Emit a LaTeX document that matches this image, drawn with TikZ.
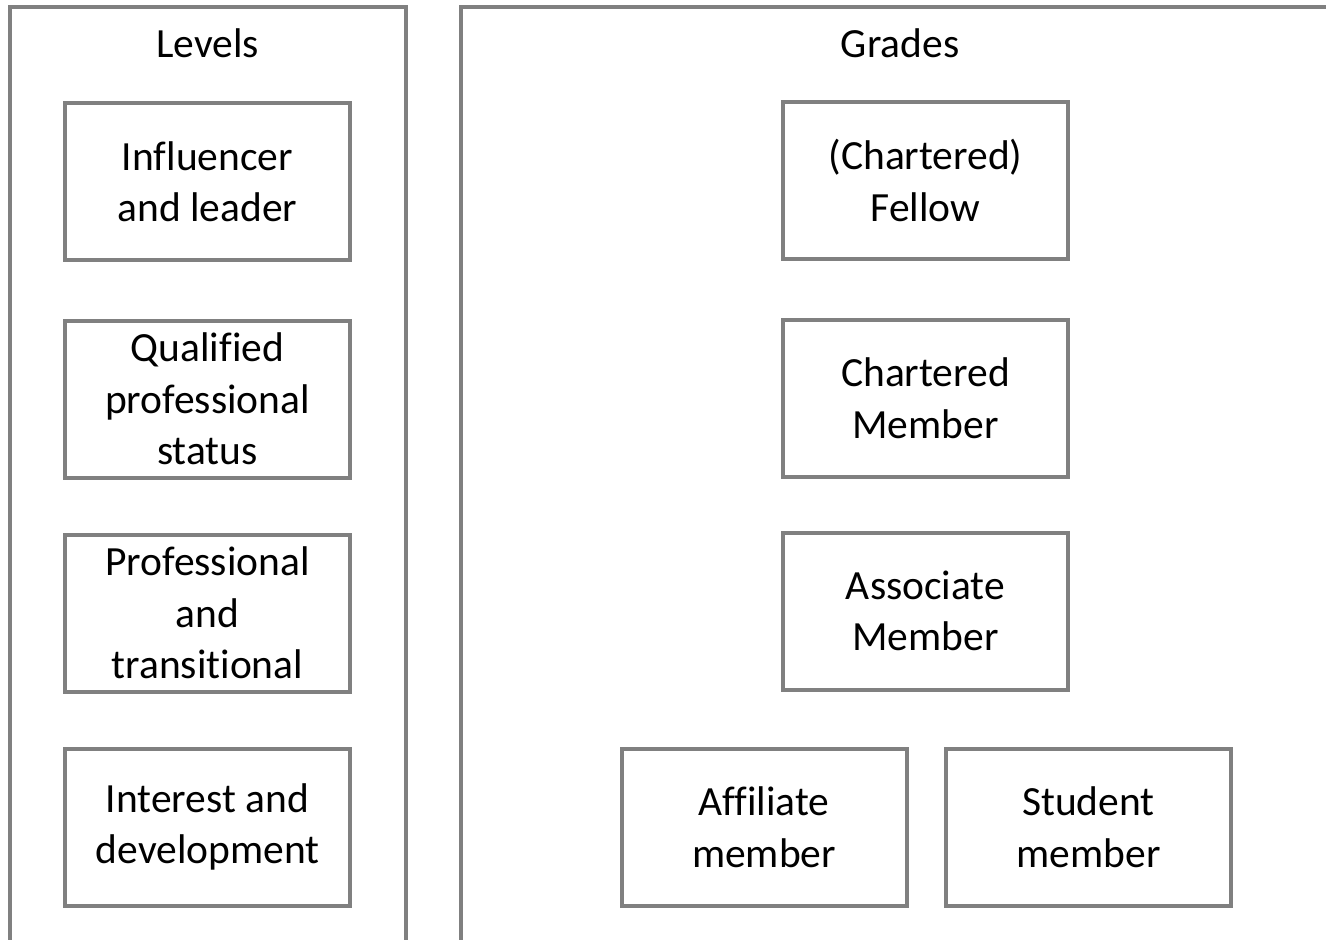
\documentclass[tikz,border=0pt]{standalone}
\usepackage{fontspec}
\setmainfont[Ligatures=NoCommon]{Carlito}
\begin{document}
\begin{tikzpicture}[x=1pt,y=-1pt,
  frame/.style={draw=framegray,line width=4pt,line join=miter},
  card/.style={draw=framegray,line width=4pt,rectangle,minimum width=285pt,minimum height=157pt,inner sep=0pt,align=center,font=\fontsize{41.5}{51.5}\selectfont},
  title/.style={font=\fontsize{41.5}{51.5}\selectfont,inner sep=0pt}]
\definecolor{framegray}{HTML}{808080}
\useasboundingbox (0,0) rectangle (1326,940);
\draw[frame] (10,945) -- (10,7) -- (405.5,7) -- (405.5,945);
\draw[frame] (461,945) -- (461,7) -- (1330,7);
\node[title] (levels) at (207.5,43) {Levels};
\node[title] (grades) at (900,43) {Grades};
\node[card] (l1) at (207.5,181.5) {Influencer\\and leader};
\node[card] (l2) at (207.5,399) {Qualified\\professional\\status};
\node[card] (l3) at (207.5,613) {Professional\\and\\transitional};
\node[card] (l4) at (207.5,827) {Interest and\\development};
\node[card] (g1) at (925.5,180.5) {(Chartered)\\Fellow};
\node[card] (g2) at (925.5,398) {Chartered\\Member};
\node[card] (g3) at (925.5,611) {Associate\\Member};
\node[card] (g4) at (764,827) {Affiliate\\member};
\node[card] (g5) at (1088.5,827) {Student\\member};
\end{tikzpicture}
\end{document}
